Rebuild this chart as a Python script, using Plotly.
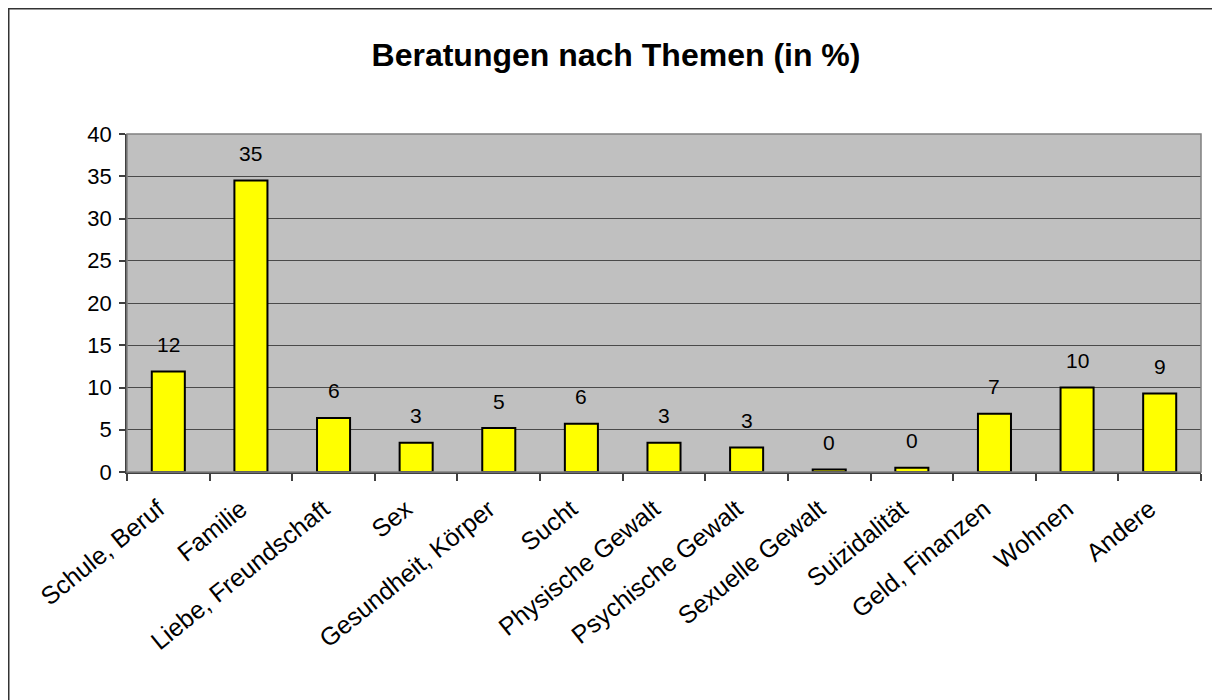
import plotly.graph_objects as go

categories = ["Schule, Beruf", "Familie", "Liebe, Freundschaft", "Sex", "Gesundheit, Körper",
              "Sucht", "Physische Gewalt", "Psychische Gewalt", "Sexuelle Gewalt", "Suizidalität",
              "Geld, Finanzen", "Wohnen", "Andere"]
values = [11.9, 34.5, 6.4, 3.45, 5.2, 5.7, 3.45, 2.9, 0.3, 0.5, 6.9, 10.0, 9.3]
labels = ["12", "35", "6", "3", "5", "6", "3", "3", "0", "0", "7", "10", "9"]
y_ticks = [0, 5, 10, 15, 20, 25, 30, 35, 40]

# page is offset by the default 8px body margin
W, H = 1220, 700
L, R, T, B = 119, 27, 126, 236
pw, ph = W - L - R, H - T - B

font = "Liberation Sans, Arial, sans-serif"

fig = go.Figure()
fig.add_trace(go.Bar(
    x=categories, y=values,
    marker=dict(color="#FFFF00", line=dict(color="#000000", width=2)),
    width=0.4,
    hoverinfo="x+y",
))

for c, v, t in zip(categories, values, labels):
    fig.add_annotation(x=c, y=v, text=t, showarrow=False, yshift=27,
                       font=dict(family=font, size=21, color="#000000"))

def px_x(p):
    return (p - L) / pw

def px_y(p):
    return (H - B - p) / ph

shapes = [
    dict(type="rect", xref="paper", yref="paper", x0=0, x1=1, y0=0, y1=1,
         line=dict(color="#808080", width=1.5), fillcolor="rgba(0,0,0,0)", layer="above"),
    dict(type="rect", xref="paper", yref="paper",
         x0=px_x(0), x1=px_x(1235), y0=px_y(715), y1=px_y(0),
         line=dict(color="#333333", width=3), fillcolor="rgba(0,0,0,0)", layer="above"),
]

fig.update_layout(
    width=W, height=H,
    margin=dict(l=L, r=R, t=T, b=B),
    paper_bgcolor="#FFFFFF",
    plot_bgcolor="#C0C0C0",
    showlegend=False,
    title=dict(text="<b>Beratungen nach Themen (in %)</b>", x=(616 - 8) / W, xref="container",
               y=1 - (55 - 8) / H, yref="container", xanchor="center", yanchor="middle",
               font=dict(family=font, size=32, color="#000000")),
    font=dict(family=font, size=21, color="#000000"),
    shapes=shapes,
)

fig.update_xaxes(
    type="category",
    tickangle=-39,
    ticks="outside", ticklen=7, tickcolor="#404040", tickwidth=1.5,
    tickson="boundaries",
    showline=True, linecolor="#404040", linewidth=1.5,
    showgrid=False,
    ticklabelstandoff=11,
    ticklabelshift=-10,
    tickfont=dict(family=font, size=25, color="#000000"),
)
fig.update_yaxes(
    range=[0, 40],
    tickvals=y_ticks,
    ticks="outside", ticklen=6, tickcolor="#404040", tickwidth=1.5,
    showline=True, linecolor="#404040", linewidth=1.5,
    showgrid=True, gridcolor="#4a4a4a", gridwidth=1,
    zeroline=False,
    ticklabelstandoff=3,
    tickfont=dict(family=font, size=22, color="#000000"),
)

fig.write_html("out.html")
